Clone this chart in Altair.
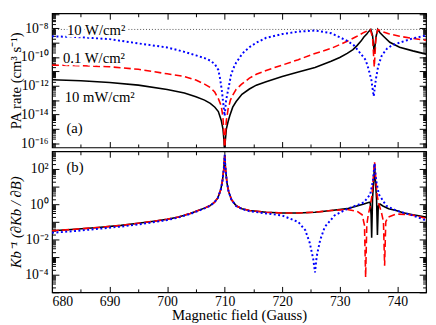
import altair as alt
import pandas as pd

# ---------------- Panel (a): PA rate (cm^3 s^-1) ----------------
A_B_10mW = [680, 685, 690, 695, 700, 703, 705, 706.5, 707.5, 708.3, 708.9, 709.4, 709.7, 709.9, 710.0,
            710.1, 710.3, 710.6, 710.9, 711.4, 712.0, 713.0, 714.3, 715.5, 717.2, 720.0, 722.8, 725.7,
            728.5, 730.0, 731.3, 732.3, 733.0, 733.7, 734.2, 734.7, 735.0, 735.4, 735.7, 736.0, 736.3,
            736.6, 737.0, 737.6, 738.7, 740.4, 742.7, 745.0]
A_PA_10mW = [2.6e-12, 2.2e-12, 1.7e-12, 1.1e-12, 5.4e-13, 3.1e-13, 1.7e-13, 1.0e-13, 5.9e-14, 3.2e-14,
             1.6e-14, 4.0e-15, 1.0e-15, 1.3e-16, 1e-17, 1.3e-16, 1.0e-15, 3.2e-15, 8.5e-15, 3.2e-14,
             7.9e-14, 2.5e-13, 5.9e-13, 1.1e-12, 1.9e-12, 4.4e-12, 9.1e-12, 1.9e-11, 5.1e-11, 9.3e-11,
             1.8e-10, 3.3e-10, 6.3e-10, 1.3e-9, 2.5e-9, 4.0e-9, 5.9e-9, 8.5e-9, 3.2e-9, 2.0e-10,
             2.5e-9, 8.5e-9, 5.0e-9, 2.8e-9, 1.07e-9, 4.9e-10, 2.7e-10, 1.6e-10]

A_B_01W = [680, 685, 690, 695, 700, 703, 705, 706.5, 707.5, 708.3, 708.9, 709.4, 709.7, 709.9, 710.0,
           710.1, 710.3, 710.6, 711.0, 711.4, 712.0, 712.9, 714.3, 715.5, 717.2, 720.0, 722.8, 725.7,
           728.5, 731.3, 733.0, 734.2, 735.3, 735.7, 736.0, 736.3, 736.6, 737.6, 738.5, 740.4, 742.7,
           745.0]
A_PA_01W = [2.75e-11, 2.5e-11, 2.1e-11, 1.4e-11, 6.8e-12, 4.4e-12, 2.5e-12, 1.3e-12, 7.6e-13, 3.5e-13,
            1.26e-13, 4.0e-14, 6.3e-15, 3.2e-16, 1e-17, 3.2e-16, 4.0e-15, 2.4e-14, 1.0e-13, 2.2e-13,
            5.6e-13, 1.23e-12, 3.4e-12, 6.3e-12, 1.17e-11, 2.75e-11, 6.6e-11, 1.78e-10, 4.0e-10,
            1.26e-9, 2.8e-9, 5.2e-9, 8.3e-9, 2.5e-9, 2.0e-11, 2.5e-9, 8.3e-9, 5.6e-9, 4.2e-9, 2.8e-9,
            2.0e-9, 1.48e-9]

A_B_10W = [680, 685, 690, 695, 700, 703, 705, 706.5, 707.5, 708.3, 708.9, 709.2, 709.5, 709.75, 710.0,
           710.25, 710.6, 711.1, 711.5, 712.0, 713.1, 714.3, 715.5, 717.2, 720.0, 722.8, 725.7, 728.5,
           731.3, 732.5, 733.6, 734.5, 735.0, 735.5, 735.9, 736.3, 736.7, 737.3, 738.2, 739.0, 740.4,
           742.7, 745.0]
A_PA_10W = [2.8e-9, 2.4e-9, 1.78e-9, 8.9e-10, 4.7e-10, 2.3e-10, 1.32e-10, 8.5e-11, 5.6e-11, 3.2e-11,
            1.26e-11, 3.2e-12, 5.0e-13, 6.3e-14, 7.9e-15, 1.0e-13, 5.0e-13, 5.5e-12, 1.6e-11, 4.1e-11,
            1.8e-10, 4.9e-10, 1.0e-9, 2.2e-9, 4.0e-9, 5.9e-9, 7.1e-9, 4.6e-9, 1.35e-9, 6.3e-10,
            1.8e-10, 6.3e-11, 1.5e-11, 2.5e-12, 1.86e-13, 3.2e-12, 2.5e-11, 1.26e-10, 3.8e-10, 6.3e-10,
            1.0e-9, 2.0e-9, 3.2e-9]

A_LIMIT = [8.4e-9]

# ---------------- Panel (b): K_b^-1 dK_b/dB ----------------
B_B_10mW = [680, 684, 688, 692, 695, 698, 700, 702, 704, 705.5, 706.5, 707.4, 708.2, 708.8, 709.3, 709.6,
            709.85, 710.0, 710.15, 710.4, 710.7, 711.2, 712.0, 713.0, 714.3, 717.2, 720.0, 722.8, 725.7,
            728.5, 731.3, 733.0, 734.2, 735.0, 735.3, 735.45, 735.55, 735.7, 735.9, 736.05, 736.2,
            736.4, 736.55, 736.7, 737.0, 737.5, 738.5, 739.8, 741.0, 742.7, 745.0]
B_K_10mW = [0.031, 0.038, 0.048, 0.063, 0.083, 0.112, 0.141, 0.19, 0.30, 0.45, 0.60, 0.81, 1.26, 2.24,
            6.3, 20, 100, 600, 100, 16, 5.0, 1.78, 0.81, 0.56, 0.44, 0.35, 0.32, 0.32, 0.35, 0.44, 0.56,
            0.79, 1.02, 1.26, 1.32, 0.25, 0.0126, 2.0, 20, 182, 20, 2.0, 0.0178, 0.79, 1.02, 0.79, 0.56,
            0.44, 0.33, 0.25, 0.186]

B_B_01W = [680, 684, 688, 692, 695, 698, 700, 702, 704, 705.5, 706.5, 707.4, 708.2, 708.8, 709.3, 709.6,
           709.85, 710.0, 710.15, 710.4, 710.7, 711.2, 712.0, 713.0, 714.3, 717.2, 720.0, 722.8, 725.7,
           728.5, 731.3, 733.0, 733.9, 734.3, 734.5, 734.7, 734.95, 735.3, 735.6, 736.05, 736.5, 736.8,
           737.2, 737.6, 737.8, 738.0, 738.4, 739.8, 742.7, 745.0]
B_K_01W = [0.031, 0.038, 0.048, 0.063, 0.083, 0.112, 0.141, 0.19, 0.30, 0.45, 0.60, 0.81, 1.26, 2.24,
           6.3, 20, 100, 600, 100, 16, 5.0, 1.78, 0.81, 0.56, 0.44, 0.35, 0.32, 0.32, 0.35, 0.44, 0.50,
           0.40, 0.25, 0.063, 7.1e-5, 0.063, 0.25, 0.79, 3.2, 250, 3.2, 1.0, 0.40, 0.10, 3.2e-4, 0.10,
           0.186, 0.28, 0.24, 0.158]

B_B_10W = [680, 684, 688, 692, 695, 698, 700, 702, 704, 705.5, 706.5, 707.4, 708.2, 708.8, 709.3, 709.6,
           709.85, 710.0, 710.15, 710.4, 710.7, 711.2, 712.0, 713.0, 714.3, 717.2, 720.0, 722.8, 724.0,
           724.8, 725.4, 725.7, 726.0, 726.6, 727.4, 729.1, 731.3, 734.2, 735.3, 735.8, 736.05, 736.3,
           736.8, 738.1, 739.8, 742.7, 745.0]
B_K_10W = [0.024, 0.030, 0.040, 0.054, 0.071, 0.10, 0.126, 0.178, 0.28, 0.43, 0.58, 0.79, 1.26, 2.24,
           6.3, 20, 100, 630, 100, 16, 5.0, 1.78, 0.79, 0.54, 0.40, 0.30, 0.23, 0.098, 0.034, 0.0062,
           7.4e-4, 1.35e-4, 1.12e-3, 9.3e-3, 0.051, 0.23, 0.54, 1.26, 3.6, 25, 204, 25, 3.6, 0.81, 0.44,
           0.23, 0.12]

SERIES = ["10 mW/cm²", "0.1 W/cm²", "10 W/cm²"]
X_LABELS = [680, 690, 700, 710, 720, 730, 740]
A_EXPS = [-16, -14, -12, -10, -8]
B_EXPS = [-4, -2, 0, 2]

FONT = "Liberation Serif"
W = 382
H_A = 137
H_B = 144

SUP = str.maketrans("-0123456789", "⁻⁰¹²³⁴⁵⁶⁷⁸⁹")


def label_expr(exps):
    parts = [f"abs(log(datum.value)/LN10 - ({e})) < 0.01 ? '10{str(e).translate(SUP)}'" for e in exps]
    return " : ".join(parts) + " : ''"


def log_ticks(lo, hi):
    return [float(f"{m}e{k}") for k in range(lo, hi) for m in range(1, 10)]


MAJOR_LOG = "abs(log(datum.value)/LN10 - round(log(datum.value)/LN10)) < 0.001"


def panel(lines, ydom, exps, tick_range, ytitle, h, show_x, annotations, limit=None, italic=False):
    xs = alt.Scale(domain=[680, 745], nice=False, zero=False)
    ys = alt.Scale(type="log", domain=ydom, nice=False)
    ylab = alt.Axis(values=[float(f"1e{e}") for e in exps], labelExpr=label_expr(exps), ticks=False,
                    tickSize=0, domain=False, grid=False, labelPadding=4, minExtent=40, maxExtent=40,
                    title=ytitle, titleX=-37, titleY=h / 2, titleAngle=270, titleAlign="center",
                    titleBaseline="middle", titleFontStyle="italic" if italic else "normal")
    if show_x:
        xlab = alt.Axis(values=X_LABELS, ticks=False, tickSize=0, domain=False, grid=False,
                        labelPadding=2, title="Magnetic field (Gauss)", titleY=23,
                        titleBaseline="middle")
    else:
        xlab = None

    def xt(orient):
        return alt.Axis(orient=orient, offset=-h, values=list(range(680, 746, 5)), labels=False,
                        domain=False, grid=False, title=None, tickColor="black", tickWidth=1,
                        tickSize={"condition": {"test": "datum.value % 10 == 0", "value": 6}, "value": 3.5})

    def yt(orient):
        return alt.Axis(orient=orient, offset=-W, values=log_ticks(*tick_range), labels=False,
                        domain=False, grid=False, title=None, tickColor="black", tickWidth=1,
                        tickSize={"condition": {"test": MAJOR_LOG, "value": 7}, "value": 3.5})

    layers = []
    first = True
    for bx, vy, color, dash, w in lines:
        df = pd.DataFrame({"B": bx, "v": vy})
        kw = dict(clip=True, color=color, strokeWidth=w)
        if dash:
            kw["strokeDash"] = dash
        layers.append(alt.Chart(df).mark_line(**kw).encode(
            x=alt.X("B:Q", scale=xs, axis=xlab if first else None),
            y=alt.Y("v:Q", scale=ys, axis=ylab if first else None),
        ))
        first = False

    tick_df = pd.DataFrame({"B": lines[0][0], "v": lines[0][1]})
    layers.append(alt.Chart(tick_df).mark_line(opacity=0).encode(
        x=alt.X("B:Q", scale=xs, axis=xt("top")), y=alt.Y("v:Q", scale=ys, axis=yt("right"))))
    layers.append(alt.Chart(tick_df).mark_line(opacity=0).encode(
        x=alt.X("B:Q", scale=xs, axis=xt("bottom")), y=alt.Y("v:Q", scale=ys, axis=yt("left"))))

    if limit is not None:
        layers.insert(0, alt.Chart(pd.DataFrame({"v": limit})).mark_rule(
            color="#555555", strokeDash=[1, 2], strokeWidth=1).encode(
            y=alt.Y("v:Q", scale=ys, axis=None)))

    adf = pd.DataFrame(annotations)
    for halo in (True, False):
        kw = dict(align="left", baseline="alphabetic", font=FONT, fontSize=15, color="black")
        if halo:
            kw.update(stroke="white", strokeWidth=5, strokeJoin="round")
        layers.append(alt.Chart(adf).mark_text(**kw).encode(
            x=alt.X("B:Q", scale=xs, axis=None), y=alt.Y("v:Q", scale=ys, axis=None), text="t:N"))

    return alt.layer(*layers).resolve_axis(x="independent", y="independent").properties(width=W, height=h)


top = panel(
    [(A_B_10mW, A_PA_10mW, "#000000", None, 1.6),
     (A_B_01W, A_PA_01W, "#ff0000", [7, 3.5], 1.6),
     (A_B_10W, A_PA_10W, "#0000ff", [2, 2.5], 2)],
    [10 ** -16.3, 10 ** -6.95], A_EXPS, (-17, -6), "PA rate (cm³ s⁻¹)", H_A, False,
    {"B": [682.6, 681.9, 682.2, 682.5],
     "v": [3.2e-9, 3.6e-11, 7.9e-14, 4.8e-16],
     "t": ["10 W/cm²", "0.1 W/cm²", "10 mW/cm²", "(a)"]},
    limit=A_LIMIT)

bottom = panel(
    [(B_B_10mW, B_K_10mW, "#000000", None, 1.6),
     (B_B_01W, B_K_01W, "#ff0000", [7, 3.5], 1.6),
     (B_B_10W, B_K_10W, "#0000ff", [2, 2.5], 2)],
    [1e-5, 1e3], B_EXPS, (-5, 3), "Kb⁻¹ (∂Kb / ∂B)", H_B, True,
    {"B": [682.5], "v": [65], "t": ["(b)"]}, italic=True)

chart = alt.vconcat(top, bottom, spacing=4, bounds="flush").properties(padding=0).configure_view(
    stroke="black", strokeWidth=1.2).configure_axis(
    labelFont=FONT, titleFont=FONT, labelFontSize=14, titleFontSize=15, labelColor="black",
    titleColor="black", titleFontWeight="normal")

chart.save("out.html", embed_options={"renderer": "svg", "actions": False})
